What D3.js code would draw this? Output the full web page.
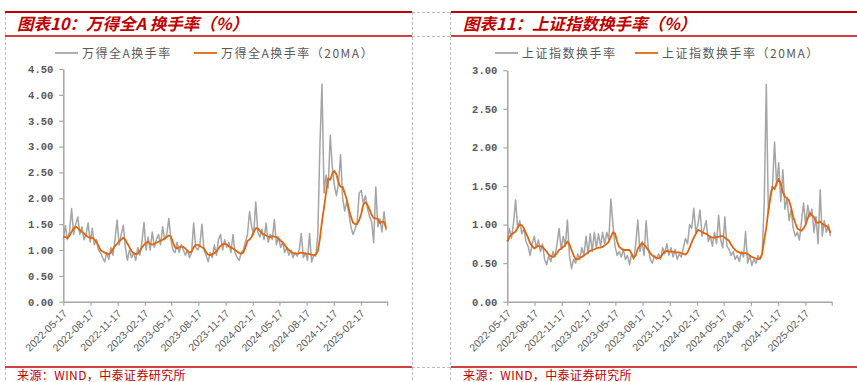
<!DOCTYPE html>
<html><head><meta charset="utf-8">
<script src="https://cdn.jsdelivr.net/npm/d3@7"></script>
<style>body{margin:0;background:#fff}svg{display:block}</style>
</head><body>
<svg id="c" width="857" height="382"></svg>
<script>
// ---------- data (weekly samples, starting 2022-05-17) ----------
const startDate = "2022-05-17";
const xTickLabels = ["2022-05-17","2022-08-17","2022-11-17","2023-02-17","2023-05-17","2023-08-17",
  "2023-11-17","2024-02-17","2024-05-17","2024-08-17","2024-11-17","2025-02-17"];
const leftYTicks = [0,0.5,1,1.5,2,2.5,3,3.5,4,4.5];
const rightYTicks = [0,0.5,1,1.5,2,2.5,3];

const wdqaRaw = [
1.20,1.47,1.20,1.35,1.80,1.30,1.50,1.64,1.30,1.45,
1.20,1.30,1.52,1.15,1.42,1.10,1.20,1.00,0.95,0.85,
0.77,0.95,0.82,1.05,0.90,1.20,1.58,1.10,1.30,1.48,
1.05,0.80,1.00,0.85,0.95,0.80,1.05,0.90,1.15,1.53,
1.00,1.25,1.00,1.35,1.05,1.20,1.30,1.10,1.45,1.20,
1.30,1.61,1.20,1.00,0.95,1.15,0.95,1.10,1.00,0.90,
1.00,0.85,0.95,1.52,1.05,1.00,1.10,1.50,1.00,0.90,
0.77,0.95,0.85,1.10,0.90,1.20,1.30,1.00,1.20,1.05,
1.15,0.95,1.30,0.95,0.85,0.80,0.95,1.00,1.15,1.30,
1.74,1.45,1.30,1.93,1.35,1.25,1.40,1.20,1.52,1.15,
1.30,1.20,1.59,1.10,1.25,1.05,1.15,0.95,1.05,0.90,
1.00,0.85,0.95,0.88,1.00,1.32,0.85,0.95,0.80,1.32,
0.77,0.90,0.88,1.30,3.00,4.21,2.10,2.45,2.20,3.22,
2.60,2.25,2.05,2.30,2.84,2.00,1.75,1.95,1.70,1.45,
1.30,1.40,1.55,2.10,2.15,1.90,2.05,1.80,1.65,1.55,
1.14,2.22,1.45,1.60,1.35,1.74,1.38];

const wdqaMA = [
1.26,1.25,1.23,1.28,1.35,1.42,1.45,1.43,1.38,1.35,
1.32,1.28,1.25,1.23,1.24,1.20,1.16,1.08,1.00,0.97,
0.95,0.93,0.92,0.95,1.02,1.08,1.12,1.17,1.20,1.24,
1.20,1.12,1.05,0.98,0.94,0.92,0.93,0.98,1.05,1.10,
1.14,1.16,1.12,1.10,1.12,1.14,1.16,1.18,1.20,1.22,
1.25,1.28,1.26,1.15,1.05,1.03,1.05,1.07,1.06,1.03,
0.98,0.95,0.97,1.05,1.10,1.10,1.08,1.05,1.03,0.96,
0.91,0.90,0.92,0.94,0.97,1.03,1.08,1.11,1.12,1.10,
1.07,1.05,1.03,1.00,0.97,0.94,0.93,0.95,1.05,1.18,
1.20,1.25,1.35,1.42,1.42,1.37,1.32,1.30,1.28,1.26,
1.25,1.27,1.26,1.25,1.22,1.18,1.15,1.10,1.04,1.00,
0.97,0.94,0.93,0.93,0.94,0.95,0.94,0.93,0.93,0.92,
0.91,0.90,0.91,0.98,1.22,1.55,1.82,2.12,2.38,2.36,
2.48,2.53,2.46,2.30,2.22,2.22,2.10,1.97,1.80,1.64,
1.53,1.50,1.50,1.58,1.70,1.88,1.92,1.87,1.78,1.68,
1.62,1.61,1.60,1.52,1.55,1.54,1.42];

const szRaw = [
0.78,0.95,0.82,1.02,1.32,0.95,1.05,0.88,0.95,0.78,
0.72,0.60,0.75,0.85,0.70,0.80,0.65,0.75,0.55,0.48,
0.60,0.52,0.65,0.58,0.75,0.95,0.68,0.85,0.72,1.06,
0.60,0.43,0.55,0.50,0.62,0.55,0.70,0.60,0.85,0.62,
0.88,0.65,0.90,0.70,0.88,0.72,0.90,0.75,0.90,0.80,
1.33,1.00,0.72,0.60,0.65,0.58,0.68,0.55,0.60,0.48,
0.62,0.55,0.75,1.06,0.65,0.78,0.60,1.05,0.70,0.55,
0.50,0.60,0.55,0.62,0.55,0.70,0.62,0.75,0.60,0.70,
0.58,0.68,0.55,0.62,0.58,0.70,0.82,0.75,1.00,0.95,
1.21,0.90,1.00,1.19,0.85,0.95,1.05,0.78,0.85,0.72,
0.90,0.75,1.12,0.80,0.70,1.10,0.72,0.68,0.60,0.65,
0.55,0.60,0.52,0.65,0.58,0.91,0.50,0.60,0.47,0.55,
0.50,0.60,0.55,0.62,1.27,2.82,1.15,1.40,1.50,2.07,
1.50,1.80,1.30,1.71,1.20,1.35,1.05,1.20,0.95,0.85,
0.90,0.80,1.05,1.28,1.00,1.25,1.10,1.20,0.90,1.10,
0.75,1.45,0.85,1.05,0.90,1.00,0.85];

const szMA = [
0.78,0.84,0.87,0.89,0.91,0.96,1.00,0.99,0.95,0.89,
0.83,0.76,0.72,0.69,0.71,0.72,0.72,0.71,0.68,0.65,
0.61,0.59,0.58,0.60,0.63,0.67,0.69,0.71,0.74,0.78,
0.74,0.67,0.60,0.55,0.55,0.57,0.58,0.60,0.62,0.64,
0.66,0.67,0.68,0.69,0.70,0.70,0.71,0.73,0.75,0.78,
0.84,0.90,0.88,0.78,0.71,0.69,0.67,0.67,0.67,0.67,
0.62,0.57,0.60,0.69,0.73,0.76,0.74,0.71,0.67,0.63,
0.60,0.58,0.57,0.56,0.58,0.62,0.65,0.66,0.65,0.65,
0.65,0.64,0.64,0.64,0.63,0.62,0.61,0.64,0.70,0.77,
0.83,0.88,0.93,0.92,0.90,0.89,0.88,0.86,0.84,0.83,
0.83,0.84,0.84,0.85,0.85,0.83,0.81,0.79,0.74,0.70,
0.67,0.65,0.64,0.63,0.63,0.63,0.62,0.60,0.58,0.57,
0.56,0.55,0.56,0.62,0.80,0.96,1.18,1.35,1.49,1.46,
1.54,1.59,1.53,1.42,1.36,1.34,1.31,1.22,1.10,1.02,
0.95,0.93,0.92,0.95,1.00,1.08,1.15,1.12,1.10,1.03,
1.02,1.04,1.01,0.99,0.98,0.96,0.89];

const leftTitle = "图表10：万得全A 换手率（%）";
const rightTitle = "图表11：上证指数换手率（%）";
const leftLegend = ["万得全A换手率", "万得全A换手率（20MA）"];
const rightLegend = ["上证指数换手率", "上证指数换手率（20MA）"];
const sourceText = "来源：WIND，中泰证券研究所";

// ---------- drawing ----------
const svg = d3.select("#c");
const RED = "#c00000", GRAY = "#a5a5a5", ORANGE = "#e2650c", AXIS = "#a6a6a6", TXT = "#595959";
const t0 = d3.timeParse("%Y-%m-%d")(startDate);
const tickDates = d3.range(13).map(k => d3.timeMonth.offset(t0, 3 * k));

// dashed frame
const dash = svg.append("g").attr("stroke", "#bdbdbd").attr("stroke-dasharray", "3,2").attr("stroke-width", 1).attr("fill", "none");
[[5.5, 12, 5.5, 382], [412.5, 12, 412.5, 382], [450.5, 12, 450.5, 382],
 [412, 12.5, 451, 12.5], [412, 36.5, 451, 36.5], [412, 367.5, 451, 367.5]].forEach(l =>
  dash.append("line").attr("x1", l[0]).attr("y1", l[1]).attr("x2", l[2]).attr("y2", l[3]));

function panel(cfg) {
  const g = svg.append("g");
  // red rules
  g.append("line").attr("x1", cfg.fx0).attr("x2", cfg.fx1).attr("y1", 12).attr("y2", 12).attr("stroke", RED).attr("stroke-width", 2.2);
  g.append("line").attr("x1", cfg.fx0).attr("x2", cfg.fx1).attr("y1", 36).attr("y2", 36).attr("stroke", RED).attr("stroke-width", 1.3);
  g.append("line").attr("x1", cfg.fx0).attr("x2", cfg.fx1).attr("y1", 367).attr("y2", 367).attr("stroke", RED).attr("stroke-width", 1.3);
  // title
  g.append("text").attr("x", cfg.fx0 + 12).attr("y", 30).text(cfg.title)
    .attr("font-family", "'Noto Sans CJK SC'").attr("font-size", 16.5).attr("font-weight", "bold")
    .attr("font-style", "italic").attr("fill", RED);
  // source
  g.append("text").attr("x", cfg.fx0 + 12).attr("y", 380).text(sourceText)
    .attr("font-family", "'Noto Sans CJK SC'").attr("font-size", 12).attr("letter-spacing", 0.4).attr("fill", RED);

  const x = d3.scaleTime().domain([tickDates[0], tickDates[12]]).range([cfg.x0, cfg.x1]);
  const y = d3.scaleLinear().domain([0, cfg.yMax]).range([301.7, cfg.yTop]);
  const dates = cfg.raw.map((_, i) => d3.timeDay.offset(t0, 7 * i));

  // axes
  const ya = g.append("g").attr("transform", `translate(${cfg.x0},0)`)
    .call(d3.axisLeft(y).tickValues(cfg.yTicks).tickSize(4).tickSizeOuter(0).tickFormat(d3.format(".2f")));
  ya.select(".domain").attr("stroke", AXIS).attr("stroke-width", 1.5);
  ya.selectAll(".tick line").attr("stroke", AXIS).attr("stroke-width", 1.2);
  ya.selectAll(".tick text").attr("x", -10).attr("fill", TXT)
    .attr("font-family", "'Liberation Mono'").attr("font-size", 10.5).attr("font-weight", "bold");

  const xa = g.append("g").attr("transform", "translate(0,301.7)")
    .call(d3.axisBottom(x).tickValues(tickDates).tickSize(4).tickSizeOuter(0).tickFormat((d, i) => xTickLabels[i] || ""));
  xa.select(".domain").attr("stroke", AXIS).attr("stroke-width", 1.5);
  xa.selectAll(".tick line").attr("stroke", AXIS).attr("stroke-width", 1.2);
  xa.selectAll(".tick text").attr("x", -6).attr("y", 8).attr("dy", "0.35em")
    .attr("text-anchor", "end").attr("transform", "rotate(-45)")
    .attr("fill", TXT).attr("font-family", "'Liberation Sans'").attr("font-size", 10.5);

  // lines
  const line = d3.line().x((d, i) => x(dates[i])).y(d => y(d));
  g.append("path").datum(cfg.raw).attr("d", line).attr("fill", "none").attr("stroke", GRAY).attr("stroke-width", 1.5).attr("stroke-linejoin", "round");
  g.append("path").datum(cfg.ma).attr("d", line).attr("fill", "none").attr("stroke", ORANGE).attr("stroke-width", 1.8).attr("stroke-linejoin", "round");

  // legend
  const lg = g.append("g").attr("font-family", "'Noto Sans CJK SC'").attr("font-size", 12).attr("fill", TXT).attr("letter-spacing", 1.5);
  [[GRAY, cfg.leg[0], cfg.lx[0]], [ORANGE, cfg.leg[1], cfg.lx[1]]].forEach(([c, t, lx]) => {
    lg.append("line").attr("x1", lx).attr("x2", lx + 23).attr("y1", 53).attr("y2", 53).attr("stroke", c).attr("stroke-width", 1.8);
    lg.append("text").attr("x", lx + 27).attr("y", 57.5).text(t);
  });
}

panel({fx0: 5, fx1: 412, x0: 63.3, x1: 387.3, yMax: 4.5, yTop: 69, yTicks: leftYTicks,
  raw: wdqaRaw, ma: wdqaMA, title: leftTitle, leg: leftLegend, lx: [55, 194]});
panel({fx0: 451, fx1: 857, x0: 507.3, x1: 831.7, yMax: 3, yTop: 70.3, yTicks: rightYTicks,
  raw: szRaw, ma: szMA, title: rightTitle, leg: rightLegend, lx: [495, 635]});
</script>
</body></html>
